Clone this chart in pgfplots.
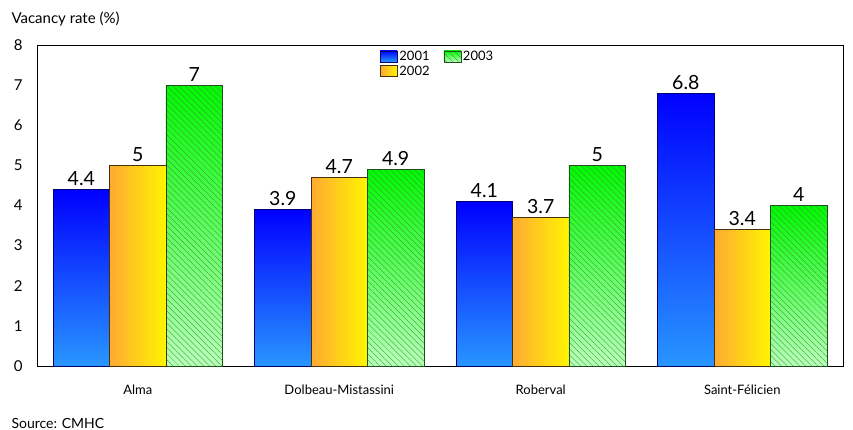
\documentclass[border=0pt]{standalone}
\usepackage{fontspec}
\setmainfont{Lato}
\usepackage{pgfplots}
\pgfplotsset{compat=1.18}
\usetikzlibrary{patterns,patterns.meta}
\definecolor{bluetop}{RGB}{0,0,255}
\definecolor{bluebot}{RGB}{40,150,255}
\definecolor{blueedge}{RGB}{0,0,110}
\definecolor{orleft}{RGB}{255,170,50}
\definecolor{orright}{RGB}{255,245,0}
\definecolor{oredge}{RGB}{70,50,10}
\definecolor{grtop}{RGB}{0,250,0}
\definecolor{grbot}{RGB}{185,255,185}
\definecolor{gredge}{RGB}{30,80,30}
\definecolor{grhatch}{RGB}{60,150,60}
\pgfplotsset{
  s2001/.style={bar shift=-0.28, draw=blueedge, top color=bluetop, bottom color=bluebot},
  s2002/.style={bar shift=0, draw=oredge, left color=orleft, right color=orright},
  s2003/.style={bar shift=0.28, draw=gredge,
    preaction={top color=grtop, bottom color=grbot},
    pattern={Lines[angle=-45, distance=4.3pt, line width=0.35pt]}, pattern color=grhatch},
}
\begin{document}
\begin{tikzpicture}
\begin{axis}[name=ax,
  scale only axis, width=806pt, height=321pt,
  xmin=-0.5, xmax=3.5, ymin=0, ymax=8,
  ybar, bar width=0.28,
  xtick={0,1,2,3},
  xticklabels={Alma,Dolbeau-Mistassini,Roberval,Saint-Félicien},
  ytick={0,1,...,8},
  tick style={draw=none},
  /pgf/number format/assume math mode=true,
  yticklabel style={font=\fontsize{15}{17}\selectfont, xshift=-11pt},
  xticklabel style={font=\fontsize{13}{15}\selectfont, yshift=-11pt},
  axis line style={black, line width=0.6pt},
  nodes near coords,
  every node near coord/.append style={font=\fontsize{19.5}{22}\selectfont, black},
  legend columns=2,
  legend style={at={(0.497,0.995)}, anchor=north, draw=none, fill=none,
    font=\fontsize{13}{15}\selectfont,
    /tikz/every even column/.append style={column sep=12pt}},
  legend image code/.code={\draw[#1] (0pt,-5.5pt) rectangle (17pt,5.5pt);},
  clip=false,
]
\addplot[s2001] coordinates {(0,4.4)};
\addlegendentry{2001}
\addplot[s2003] coordinates {(0,7)};
\addlegendentry{2003}
\addplot[s2002] coordinates {(0,5)};
\addlegendentry{2002}
\addplot[s2001, forget plot] coordinates {(1,3.9)};
\addplot[s2001, forget plot] coordinates {(2,4.1)};
\addplot[s2001, forget plot] coordinates {(3,6.8)};
\addplot[s2002, forget plot] coordinates {(1,4.7)};
\addplot[s2002, forget plot] coordinates {(2,3.7)};
\addplot[s2002, forget plot] coordinates {(3,3.4)};
\addplot[s2003, forget plot] coordinates {(1,4.9)};
\addplot[s2003, forget plot] coordinates {(2,5)};
\addplot[s2003, forget plot] coordinates {(3,4)};
\node[anchor=west, font=\fontsize{15}{17}\selectfont] at ([shift={(-29pt,26pt)}]rel axis cs:0,1) {Vacancy rate (\%)};
\node[anchor=west, font=\fontsize{14}{16}\selectfont] at ([shift={(-29pt,-57pt)}]rel axis cs:0,0) {Source: CMHC};
\end{axis}
\pgfresetboundingbox
\path ([shift={(-37pt,-64pt)}]ax.south west) rectangle ([shift={(10pt,45pt)}]ax.north east);
\end{tikzpicture}
\end{document}
